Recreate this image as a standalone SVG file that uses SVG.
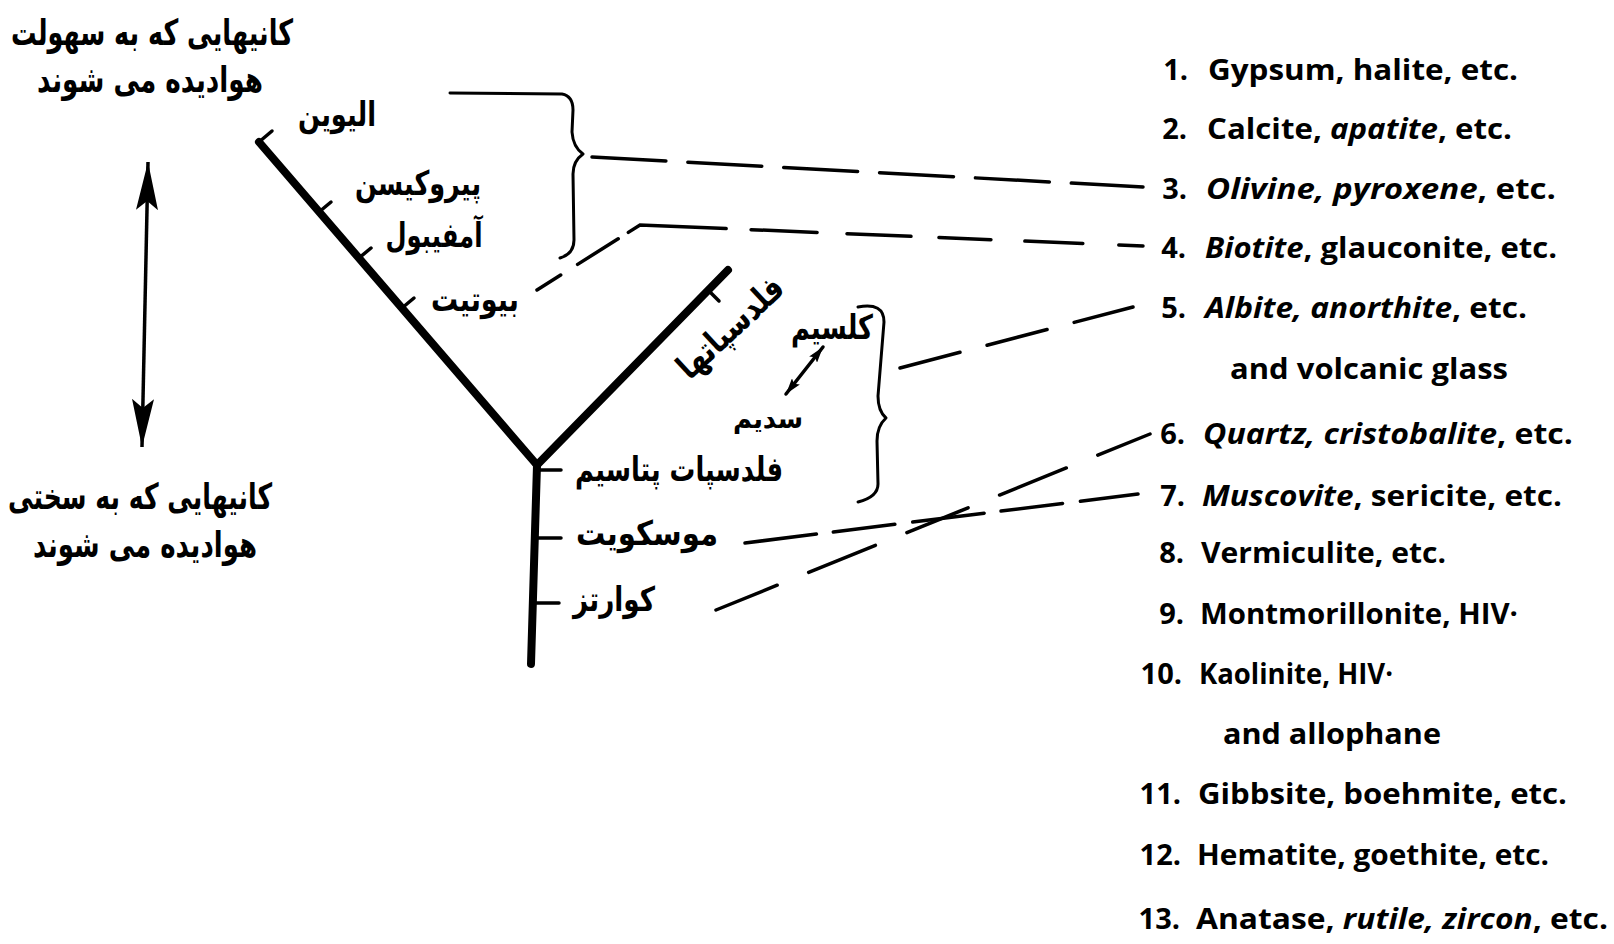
<svg xmlns="http://www.w3.org/2000/svg" width="1614" height="944" viewBox="0 0 1614 944">
  <style>
    .fa { font-family: "DejaVu Sans", sans-serif; font-weight: bold; fill: #000; }
    .en { font-family: "Open Sans", "Liberation Sans", sans-serif; font-weight: 700; font-size: 29px; fill: #000; }
    .num { text-anchor: end; }
    .it { font-style: italic; }
    .arm { stroke: #000; stroke-width: 8; stroke-linecap: round; fill: none; }
    .tick { stroke: #000; stroke-width: 3.5; stroke-linecap: round; fill: none; }
    .brace { stroke: #000; stroke-width: 3; fill: none; stroke-linejoin: round; stroke-linecap: round; }
    .dash { stroke: #000; stroke-width: 3.5; fill: none; stroke-linecap: round; }
    .axis { stroke: #000; stroke-width: 3.5; fill: none; }
  </style>
  <defs>
    <marker id="head" viewBox="0 0 48 22" refX="48" refY="11" markerWidth="48" markerHeight="22" markerUnits="userSpaceOnUse" orient="auto-start-reverse">
      <path d="M0,0 L48,11 L0,22 L9,11 z" fill="#000"/>
    </marker>
    <marker id="headSmall" viewBox="0 0 16 10" refX="16" refY="5" markerWidth="16" markerHeight="10" markerUnits="userSpaceOnUse" orient="auto-start-reverse">
      <path d="M0,0 L16,5 L0,10 L3,5 z" fill="#000"/>
    </marker>
  </defs>
  <rect width="1614" height="944" fill="#fff"/>

  <!-- weathering scale: easily weathered (top) to hardly weathered (bottom) -->
  <g id="scale-easy">
    <text class="fa" x="152" y="45" font-size="36" text-anchor="middle" textLength="282" lengthAdjust="spacingAndGlyphs">کانیهایی که به سهولت</text>
    <text class="fa" x="150" y="92" font-size="36" text-anchor="middle" textLength="226" lengthAdjust="spacingAndGlyphs">هوادیده می شوند</text>
  </g>
  <g id="scale-arrow">
    <line class="axis" x1="148" y1="162" x2="142" y2="447" marker-start="url(#head)" marker-end="url(#head)"/>
  </g>
  <g id="scale-hard">
    <text class="fa" x="140" y="509" font-size="36" text-anchor="middle" textLength="264" lengthAdjust="spacingAndGlyphs">کانیهایی که به سختی</text>
    <text class="fa" x="145" y="557" font-size="36" text-anchor="middle" textLength="224" lengthAdjust="spacingAndGlyphs">هوادیده می شوند</text>
  </g>

  <!-- Bowen-type series: ferromagnesian arm, feldspar arm, common stem -->
  <g id="tree">
    <line class="arm" x1="259" y1="142" x2="537" y2="465"/>
    <line class="arm" x1="537" y1="465" x2="728" y2="270"/>
    <line class="arm" x1="537" y1="465" x2="531" y2="664" stroke-width="7"/>
    <line class="tick" x1="259" y1="142" x2="272" y2="131"/>
    <line class="tick" x1="319" y1="212" x2="331" y2="202"/>
    <line class="tick" x1="359" y1="258" x2="371" y2="248"/>
    <line class="tick" x1="402" y1="308" x2="414" y2="298"/>
    <line class="tick" x1="708" y1="290" x2="719" y2="301"/>
    <line class="tick" x1="537" y1="470" x2="561" y2="470"/>
    <line class="tick" x1="535" y1="538" x2="561" y2="538"/>
    <line class="tick" x1="534" y1="603" x2="559" y2="603"/>
  </g>

  <g id="olivine"><text class="fa" x="337" y="126" font-size="34" text-anchor="middle" textLength="78" lengthAdjust="spacingAndGlyphs">الیوین</text></g>
  <g id="pyroxene"><text class="fa" x="418" y="195" font-size="34" text-anchor="middle" textLength="126" lengthAdjust="spacingAndGlyphs">پیروکیسن</text></g>
  <g id="amphibole"><text class="fa" x="434" y="247" font-size="34" text-anchor="middle" textLength="97" lengthAdjust="spacingAndGlyphs">آمفیبول</text></g>
  <g id="biotite"><text class="fa" x="475" y="311" font-size="34" text-anchor="middle" textLength="88" lengthAdjust="spacingAndGlyphs">بیوتیت</text></g>
  <g id="feldspars"><text class="fa" transform="translate(738,336) rotate(-43)" x="0" y="0" font-size="34" text-anchor="middle" textLength="132" lengthAdjust="spacingAndGlyphs">فلدسپاتها</text></g>
  <g id="calcium"><text class="fa" x="832" y="339" font-size="34" text-anchor="middle" textLength="82" lengthAdjust="spacingAndGlyphs">کلسیم</text></g>
  <g id="ca-na-arrow"><line class="tick" x1="786" y1="394" x2="823" y2="347" stroke-width="3" marker-start="url(#headSmall)" marker-end="url(#headSmall)"/></g>
  <g id="sodium"><text class="fa" x="768" y="428" font-size="27" text-anchor="middle" textLength="70" lengthAdjust="spacingAndGlyphs">سدیم</text></g>
  <g id="k-feldspar"><text class="fa" x="679" y="481" font-size="34" text-anchor="middle" textLength="208" lengthAdjust="spacingAndGlyphs">فلدسپات پتاسیم</text></g>
  <g id="muscovite"><text class="fa" x="647" y="545" font-size="34" text-anchor="middle" textLength="142" lengthAdjust="spacingAndGlyphs">موسکویت</text></g>
  <g id="quartz"><text class="fa" x="614" y="611" font-size="34" text-anchor="middle" textLength="82" lengthAdjust="spacingAndGlyphs">کوارتز</text></g>

  <!-- grouping braces -->
  <g id="brace-ferromagnesian">
    <path class="brace" d="M450,93 L562,94 Q573,96 573,110 L572,132 Q573,147 583,154 Q573,161 573,174 L574,240 Q574,254 560,258"/>
  </g>
  <g id="brace-plagioclase">
    <path class="brace" d="M858,307 Q884,302 884,322 L878,396 Q878,411 886,418 Q877,426 877,441 L878,484 Q878,497 858,502"/>
  </g>

  <!-- dashed links to the numbered weathering stages -->
  <g id="connectors">
    <path class="dash" d="M592,157 L1143,187" stroke-dasharray="74 22"/>
    <path class="dash" d="M537,290 L640,225 L1143,246" stroke-dasharray="28 20 48 12 100 25 66 30 64 28 52 34 58 36 46"/>
    <path class="dash" d="M900,368 L1133,307" stroke-dasharray="62 28"/>
    <path class="dash" d="M745,543 L1138,494" stroke-dasharray="72 17 62 18"/>
    <path class="dash" d="M716,610 L1150,434" stroke-dasharray="66 34 72 34"/>
  </g>

  <!-- numbered list of weathering stages -->
  <g id="item-1"><text class="en num" x="1188" y="80">1.</text><text class="en" x="1208" y="80" textLength="310" lengthAdjust="spacingAndGlyphs">Gypsum, halite, etc.</text></g>
  <g id="item-2"><text class="en num" x="1187" y="139">2.</text><text class="en" x="1207" y="139" textLength="305" lengthAdjust="spacingAndGlyphs">Calcite, <tspan class="it">apatite</tspan>, etc.</text></g>
  <g id="item-3"><text class="en num" x="1187" y="199">3.</text><text class="en" x="1206" y="199" textLength="350" lengthAdjust="spacingAndGlyphs"><tspan class="it">Olivine, pyroxene</tspan>, etc.</text></g>
  <g id="item-4"><text class="en num" x="1186" y="258">4.</text><text class="en" x="1205" y="258" textLength="352" lengthAdjust="spacingAndGlyphs"><tspan class="it">Biotite</tspan>, glauconite, etc.</text></g>
  <g id="item-5"><text class="en num" x="1186" y="318">5.</text><text class="en" x="1205" y="318" textLength="322" lengthAdjust="spacingAndGlyphs"><tspan class="it">Albite, anorthite</tspan>, etc.</text>
    <text class="en" x="1230" y="379" textLength="278" lengthAdjust="spacingAndGlyphs">and volcanic glass</text></g>
  <g id="item-6"><text class="en num" x="1185" y="444">6.</text><text class="en" x="1203" y="444" textLength="370" lengthAdjust="spacingAndGlyphs"><tspan class="it">Quartz, cristobalite</tspan>, etc.</text></g>
  <g id="item-7"><text class="en num" x="1185" y="506">7.</text><text class="en" x="1202" y="506" textLength="360" lengthAdjust="spacingAndGlyphs"><tspan class="it">Muscovite</tspan>, sericite, etc.</text></g>
  <g id="item-8"><text class="en num" x="1184" y="563">8.</text><text class="en" x="1201" y="563" textLength="245" lengthAdjust="spacingAndGlyphs">Vermiculite, etc.</text></g>
  <g id="item-9"><text class="en num" x="1184" y="624">9.</text><text class="en" x="1200" y="624" textLength="318" lengthAdjust="spacingAndGlyphs">Montmorillonite, HIV·</text></g>
  <g id="item-10"><text class="en num" x="1182" y="684">10.</text><text class="en" x="1199" y="684" textLength="194" lengthAdjust="spacingAndGlyphs">Kaolinite, HIV·</text>
    <text class="en" x="1223" y="744" textLength="218" lengthAdjust="spacingAndGlyphs">and allophane</text></g>
  <g id="item-11"><text class="en num" x="1181" y="804">11.</text><text class="en" x="1198" y="804" textLength="369" lengthAdjust="spacingAndGlyphs">Gibbsite, boehmite, etc.</text></g>
  <g id="item-12"><text class="en num" x="1181" y="865">12.</text><text class="en" x="1197" y="865" textLength="352" lengthAdjust="spacingAndGlyphs">Hematite, goethite, etc.</text></g>
  <g id="item-13"><text class="en num" x="1180" y="929">13.</text><text class="en" x="1196" y="929" textLength="412" lengthAdjust="spacingAndGlyphs">Anatase, <tspan class="it">rutile, zircon</tspan>, etc.</text></g>
</svg>
